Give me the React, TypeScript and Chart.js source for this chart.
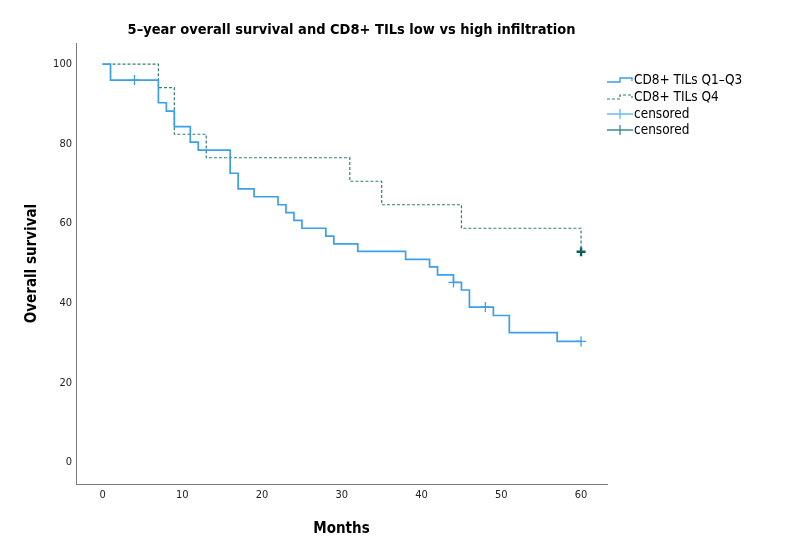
import React, { useEffect, useRef } from "react";
import { Chart, registerables } from "chart.js";

Chart.register(...registerables);

const chartTitle = "5–year overall survival and CD8+ TILs low vs high infiltration";
const xAxisTitle = "Months";
const yAxisTitle = "Overall survival";

const xTicks = [0, 10, 20, 30, 40, 50, 60];
const yTicks = [0, 20, 40, 60, 80, 100];

const lowLabel = "CD8+ TILs Q1–Q3";
const lowMonths = [0, 1, 7, 8, 9, 11, 12, 16, 17, 19, 22, 23, 24, 25, 28, 29, 32, 38, 41, 42, 44, 45, 46, 49, 51, 57, 60];
const lowSurvival = [100, 96.0, 90.3, 88.2, 84.3, 80.4, 78.4, 72.6, 68.7, 66.7, 64.7, 62.7, 60.8, 58.8, 56.8, 54.9, 53.0, 51.0, 49.1, 47.1, 45.2, 43.3, 39.0, 36.9, 32.6, 30.4, 30.4];
const lowCensorMonths = [4, 44, 48, 60];
const lowCensorSurvival = [96.0, 45.2, 39.0, 30.4];

const highLabel = "CD8+ TILs Q4";
const highMonths = [0, 7, 9, 13, 31, 35, 45, 60];
const highSurvival = [100, 94.1, 82.4, 76.5, 70.6, 64.7, 58.8, 52.9];
const highCensorMonths = [60];
const highCensorSurvival = [52.9];

const censorLabel = "censored";

const FONT = "'DejaVu Sans Condensed', 'Liberation Sans Narrow', 'DejaVu Sans', sans-serif";
const LOW_COLOR = "#3d9fe9";
const HIGH_COLOR = "#2f7d7d";
const HIGH_CENSOR_COLOR = "#0c5c5c";

const toPoints = (xs: number[], ys: number[]) => xs.map((x, i) => ({ x, y: ys[i] }));

const decorPlugin = {
  id: "decor",
  afterDraw(chart: any) {
    const ctx: CanvasRenderingContext2D = chart.ctx;
    ctx.save();
    // Title
    ctx.fillStyle = "#000";
    ctx.font = `bold 14.5px ${FONT}`;
    ctx.textAlign = "center";
    ctx.textBaseline = "middle";
    ctx.fillText(chartTitle, 351.5, 30);

    // Legend
    const x0 = 607;
    const x1 = 633;
    const xm = 620;
    const rowY = [80, 97, 114, 130];
    const items = chart.data.datasets.map((d: any) => d);
    ctx.font = `13.5px ${FONT}`;
    ctx.textAlign = "left";
    items.forEach((d: any, i: number) => {
      const y = rowY[i];
      ctx.save();
      ctx.strokeStyle = d.legendColor;
      ctx.lineWidth = d.legendWidth;
      if (d.legendKind === "line") {
        ctx.setLineDash(d.borderDash || []);
        ctx.beginPath();
        ctx.moveTo(x0, y + 2);
        ctx.lineTo(xm, y + 2);
        ctx.lineTo(xm, y - 2);
        ctx.lineTo(x1 - 1, y - 2);
        ctx.lineTo(x1 - 1, y + 1);
        ctx.stroke();
      } else {
        ctx.beginPath();
        ctx.moveTo(x0, y);
        ctx.lineTo(x1, y);
        ctx.moveTo(xm, y - 5);
        ctx.lineTo(xm, y + 5);
        ctx.stroke();
      }
      ctx.restore();
      ctx.fillStyle = "#000";
      ctx.fillText(d.label, x1 + 1, y + 0.5);
    });
    ctx.restore();
  },
};

export default function App() {
  const canvasRef = useRef<HTMLCanvasElement | null>(null);

  useEffect(() => {
    const canvas = canvasRef.current;
    if (!canvas) return;
    const chart = new Chart(canvas, {
      type: "line",
      data: {
        datasets: [
          {
            label: lowLabel,
            data: toPoints(lowMonths, lowSurvival),
            borderColor: LOW_COLOR,
            borderWidth: 1.7,
            stepped: true,
            pointRadius: 0,
            fill: false,
            legendKind: "line",
            legendColor: LOW_COLOR,
            legendWidth: 1.4,
          } as any,
          {
            label: highLabel,
            data: toPoints(highMonths, highSurvival),
            borderColor: HIGH_COLOR,
            borderWidth: 1.2,
            borderDash: [3, 2],
            stepped: true,
            pointRadius: 0,
            fill: false,
            legendKind: "line",
            legendColor: HIGH_COLOR,
            legendWidth: 1.2,
          } as any,
          {
            type: "scatter",
            label: censorLabel,
            data: toPoints(lowCensorMonths, lowCensorSurvival),
            showLine: false,
            pointStyle: "cross",
            pointRadius: 5,
            pointBorderWidth: 1.3,
            pointBorderColor: LOW_COLOR,
            pointBackgroundColor: LOW_COLOR,
            legendKind: "cross",
            legendColor: "#6cb8f0",
            legendWidth: 1.3,
          } as any,
          {
            type: "scatter",
            label: censorLabel,
            data: toPoints(highCensorMonths, highCensorSurvival),
            showLine: false,
            pointStyle: "cross",
            pointRadius: 4.5,
            pointBorderWidth: 2.4,
            pointBorderColor: HIGH_CENSOR_COLOR,
            pointBackgroundColor: HIGH_CENSOR_COLOR,
            legendKind: "cross",
            legendColor: "#3f8a8a",
            legendWidth: 1.3,
          } as any,
        ],
      },
      options: {
        animation: false,
        responsive: false,
        layout: { padding: { left: 0, top: 43, right: 186, bottom: 0 } },
        plugins: {
          legend: { display: false },
          title: { display: false },
          tooltip: { enabled: false },
        },
        scales: {
          x: {
            type: "linear",
            min: -3.33,
            max: 63.25,
            grid: { display: false, drawTicks: false },
            border: { display: true, color: "#7a7a7a", width: 1 },
            afterBuildTicks: (scale: any) => {
              scale.ticks = xTicks.map((v) => ({ value: v }));
            },
            afterFit: (scale: any) => {
              scale.height = 59;
            },
            ticks: {
              padding: 5,
              color: "#222",
              font: { family: FONT, size: 11 },
              maxRotation: 0,
              autoSkip: false,
            },
            title: {
              display: true,
              text: xAxisTitle,
              color: "#000",
              font: { family: FONT, size: 15, weight: "bold" },
              padding: { top: 0, bottom: 5 },
            },
          },
          y: {
            type: "linear",
            min: -5.4,
            max: 105.3,
            grid: { display: false, drawTicks: false },
            border: { display: true, color: "#7a7a7a", width: 1 },
            afterBuildTicks: (scale: any) => {
              scale.ticks = yTicks.map((v) => ({ value: v }));
            },
            afterFit: (scale: any) => {
              scale.width = 76;
            },
            ticks: {
              padding: 4,
              color: "#222",
              font: { family: FONT, size: 11 },
              autoSkip: false,
            },
            title: {
              display: true,
              text: yAxisTitle,
              color: "#000",
              font: { family: FONT, size: 15, weight: "bold" },
              padding: { top: 23, bottom: 0 },
            },
          },
        },
      } as any,
      plugins: [decorPlugin],
    });
    return () => chart.destroy();
  }, []);

  return (
    <div style={{ position: "fixed", left: 0, top: 0, width: 793, height: 543, background: "#fff" }}>
      <canvas ref={canvasRef} width={793} height={543} style={{ display: "block" }} />
    </div>
  );
}
